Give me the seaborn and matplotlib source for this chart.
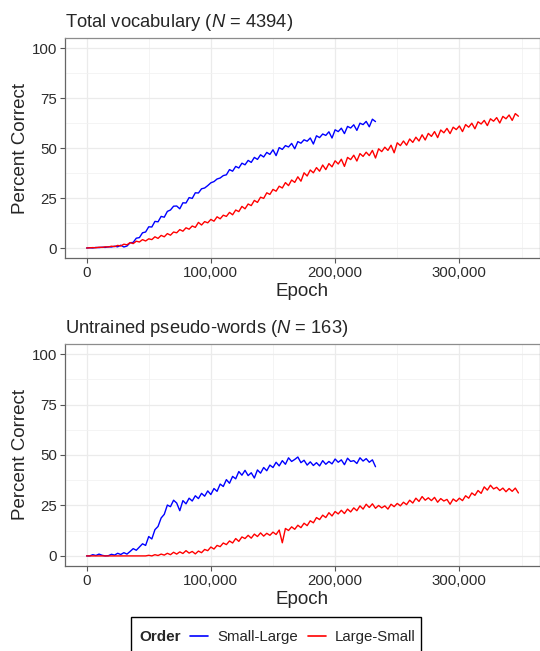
import numpy as np
import pandas as pd
import matplotlib
matplotlib.use("Agg")
import matplotlib.pyplot as plt
from matplotlib.lines import Line2D
from matplotlib.patches import Rectangle
from matplotlib.ticker import FuncFormatter
import seaborn as sns

# sampling step of the read-off values (epochs)
step = 2500

# Total vocabulary, Small-Large order (0 .. 232,500)
vocab_small_large = [
    0.0, 0.1, 0.0, 0.3, 0.2, 0.4, 0.3, 0.6, 0.5, 0.9, 0.6, 1.4, 0.5, 1.0, 2.6,
    2.8, 4.9, 5.2, 7.6, 8.0, 10.6, 10.5, 13.3, 13.1, 15.8, 15.4, 18.3, 19.0, 20.9, 21.0,
    19.6, 22.6, 22.5, 25.2, 24.8, 27.6, 27.5, 29.6, 30.0, 31.2, 32.6, 33.2, 34.5, 35.0, 36.2,
    36.6, 39.2, 38.4, 40.8, 40.0, 42.4, 41.6, 43.8, 42.8, 45.3, 44.3, 46.6, 45.5, 47.8, 46.8,
    49.1, 46.2, 50.2, 49.3, 51.2, 50.5, 52.3, 49.6, 53.2, 52.4, 54.1, 53.4, 55.0, 52.0, 56.1,
    55.2, 57.0, 56.3, 58.1, 55.0, 59.1, 58.2, 59.9, 57.2, 60.8, 60.0, 61.6, 58.8, 62.4, 61.7,
    63.3, 60.6, 64.4, 63.2,
]

# Total vocabulary, Large-Small order (0 .. 347,500)
vocab_large_small = [
    0.0, 0.1, 0.2, 0.1, 0.4, 0.3, 0.6, 0.5, 0.9, 0.7, 1.3, 1.0, 1.9, 1.6, 2.7,
    2.2, 3.4, 3.0, 4.2, 3.5, 4.6, 4.2, 5.6, 4.8, 6.3, 5.6, 7.2, 6.4, 8.0, 7.6,
    9.2, 8.4, 10.1, 9.4, 11.0, 10.3, 12.8, 11.5, 13.2, 12.6, 14.3, 13.4, 15.6, 14.6, 16.4,
    15.8, 17.8, 16.6, 19.0, 18.2, 20.8, 19.6, 22.0, 21.2, 23.8, 22.8, 25.4, 24.8, 27.6, 26.8,
    29.3, 28.4, 30.9, 30.0, 32.7, 31.2, 34.0, 32.8, 35.6, 33.4, 37.6, 36.0, 39.0, 37.6, 40.2,
    38.4, 41.5, 39.2, 42.2, 40.6, 43.6, 42.0, 44.4, 40.8, 45.3, 44.2, 46.4, 43.5, 47.2, 45.8,
    47.9, 46.2, 48.8, 45.0, 49.6, 48.2, 50.4, 48.8, 51.4, 47.6, 52.6, 51.2, 53.5, 51.4, 54.5,
    52.8, 55.4, 53.5, 56.6, 54.0, 57.3, 55.8, 58.2, 55.2, 59.0, 57.6, 59.8, 57.2, 60.4, 59.2,
    61.0, 58.2, 61.7, 60.4, 62.4, 59.6, 63.1, 62.0, 63.8, 61.2, 64.6, 63.4, 65.2, 62.5, 65.8,
    64.6, 66.5, 63.8, 67.2, 65.9,
]

# Untrained pseudo-words, Small-Large order
pseudo_small_large = [
    0.0, 0.0, 0.6, 0.2, 0.9, 0.3, 0.0, 0.1, 0.8, 0.4, 1.3, 0.7, 1.6, 0.9, 2.2,
    3.6, 2.8, 4.4, 6.0, 5.2, 9.6, 8.4, 13.0, 14.6, 18.8, 20.6, 25.2, 24.4, 27.6, 26.2,
    22.4, 27.4, 25.8, 28.6, 27.2, 29.8, 28.4, 31.0, 29.6, 32.2, 30.4, 33.4, 32.0, 35.6, 34.4,
    37.8, 36.0, 39.4, 38.2, 41.8, 40.0, 42.4, 39.8, 41.2, 38.6, 42.6, 41.0, 43.8, 42.2, 45.0,
    43.8, 46.4, 44.6, 47.2, 45.4, 48.6, 46.8, 47.8, 49.0, 46.2, 47.4, 45.0, 46.6, 44.8, 46.2,
    44.6, 47.2, 45.4, 46.8, 45.6, 48.0, 46.4, 47.6, 45.2, 48.4, 46.8, 47.2, 45.8, 48.6, 47.0,
    48.2, 46.4, 47.6, 44.2,
]

# Untrained pseudo-words, Large-Small order
pseudo_large_small = [
    0.0, 0.0, 0.0, 0.0, 0.0, 0.0, 0.0, 0.0, 0.0, 0.0, 0.0, 0.0, 0.0, 0.0, 0.0,
    0.0, 0.0, 0.0, 0.0, 0.0, 0.3, 0.0, 0.6, 0.2, 0.9, 0.4, 1.3, 0.6, 1.8, 0.9,
    2.0, 1.2, 2.6, 1.4, 2.2, 1.0, 2.4, 1.6, 3.2, 2.6, 4.4, 3.4, 5.2, 4.6, 6.4,
    5.6, 7.4, 6.4, 8.6, 7.2, 9.4, 8.6, 10.2, 8.8, 10.8, 9.6, 11.4, 9.8, 11.2, 10.2,
    11.8, 10.6, 12.8, 6.5, 13.6, 12.6, 14.4, 13.2, 15.2, 14.0, 16.2, 15.0, 17.4, 16.4, 19.0,
    18.0, 20.2, 19.0, 21.4, 19.8, 22.0, 20.8, 22.6, 21.0, 23.2, 21.8, 23.8, 22.4, 24.8, 23.2,
    25.6, 24.0, 25.8, 23.6, 25.0, 23.8, 24.8, 23.2, 25.6, 24.4, 26.0, 24.8, 26.6, 25.4, 27.6,
    26.2, 28.6, 27.0, 29.4, 27.6, 28.8, 27.4, 29.0, 26.6, 28.4, 27.2, 28.0, 25.6, 28.2, 27.0,
    28.6, 27.4, 29.8, 28.6, 31.2, 30.0, 32.4, 31.0, 34.2, 32.6, 35.0, 33.2, 34.0, 32.4, 33.6,
    31.8, 33.4, 32.0, 33.6, 31.2,
]

orders = ["Small-Large", "Large-Small"]
colors = {"Small-Large": "#0000ff", "Large-Small": "#ff0000"}
titles = [r"Total vocabulary ($\mathit{N}$ = 4394)",
          r"Untrained pseudo-words ($\mathit{N}$ = 163)"]


def make_df(small_large, large_small):
    parts = []
    for name, vals in zip(orders, [small_large, large_small]):
        parts.append(pd.DataFrame({"Epoch": np.arange(len(vals)) * step,
                                   "Percent": vals, "Order": name}))
    return pd.concat(parts, ignore_index=True)


panels = [make_df(vocab_small_large, vocab_large_small),
          make_df(pseudo_small_large, pseudo_large_small)]

sns.set_theme(style="white")
plt.rcParams["font.family"] = ["Liberation Sans", "DejaVu Sans"]
plt.rcParams["mathtext.fontset"] = "custom"
plt.rcParams["mathtext.it"] = "Liberation Sans:italic"
plt.rcParams["mathtext.rm"] = "Liberation Sans"

fig = plt.figure(figsize=(5.4, 6.51), dpi=100)
W, H = 540, 651
boxes = [(65, 38, 540, 258), (65, 344, 540, 566)]

for (x0, y0, x1, y1), df, title in zip(boxes, panels, titles):
    ax = fig.add_axes([x0 / W, 1 - y1 / H, (x1 - x0) / W, (y1 - y0) / H])
    sns.lineplot(data=df, x="Epoch", y="Percent", hue="Order", hue_order=orders,
                 palette=colors, estimator=None, errorbar=None, lw=1.0,
                 legend=False, ax=ax)
    xmax = df["Epoch"].max()
    ax.set_xlim(-0.05 * xmax, 1.05 * xmax)
    ax.set_ylim(-5, 105)
    ax.set_xticks([0, 100000, 200000, 300000])
    ax.set_xticks([50000, 150000, 250000, 350000], minor=True)
    ax.set_yticks([0, 25, 50, 75, 100])
    ax.set_yticks([12.5, 37.5, 62.5, 87.5], minor=True)
    ax.xaxis.set_major_formatter(FuncFormatter(lambda v, p: f"{int(v):,}"))
    ax.grid(which="major", color="#ebebeb", lw=0.9)
    ax.grid(which="minor", color="#f2f2f2", lw=0.6)
    ax.set_axisbelow(True)
    for s in ax.spines.values():
        s.set_color("#8c8c8c")
        s.set_linewidth(0.9)
    ax.spines["left"].set_color("#666666")
    ax.spines["bottom"].set_color("#666666")
    ax.tick_params(which="major", direction="out", length=3.5, width=0.8,
                   color="#555555", labelsize=10.8, labelcolor="#2b2b2b",
                   left=True, bottom=True, pad=2)
    ax.tick_params(which="minor", length=0)
    ax.set_title(title, loc="left", fontsize=13.2, pad=8)
    ax.set_xlabel("Epoch", fontsize=13.5, labelpad=2.5)
    ax.set_ylabel("Percent Correct", fontsize=13.5, labelpad=2)

# legend strip at the bottom
fig.patches.append(Rectangle((131 / W, 1 - 672 / H), 290 / W, 55 / H,
                             transform=fig.transFigure, fill=False,
                             edgecolor="black", lw=1.0))
fig.text(139 / W, 1 - 637 / H, "Order", fontsize=11, fontweight="bold",
         va="center", ha="left")
handles = [Line2D([], [], color=colors[o], lw=1.2) for o in orders]
fig.legend(handles, orders, loc="center left", bbox_to_anchor=(190 / W, 1 - 637 / H),
           ncol=2, frameon=False, fontsize=10.8, handlelength=1.2,
           handletextpad=0.65, columnspacing=0.6, borderpad=0, borderaxespad=0)

fig.savefig("out.png", dpi=100)
